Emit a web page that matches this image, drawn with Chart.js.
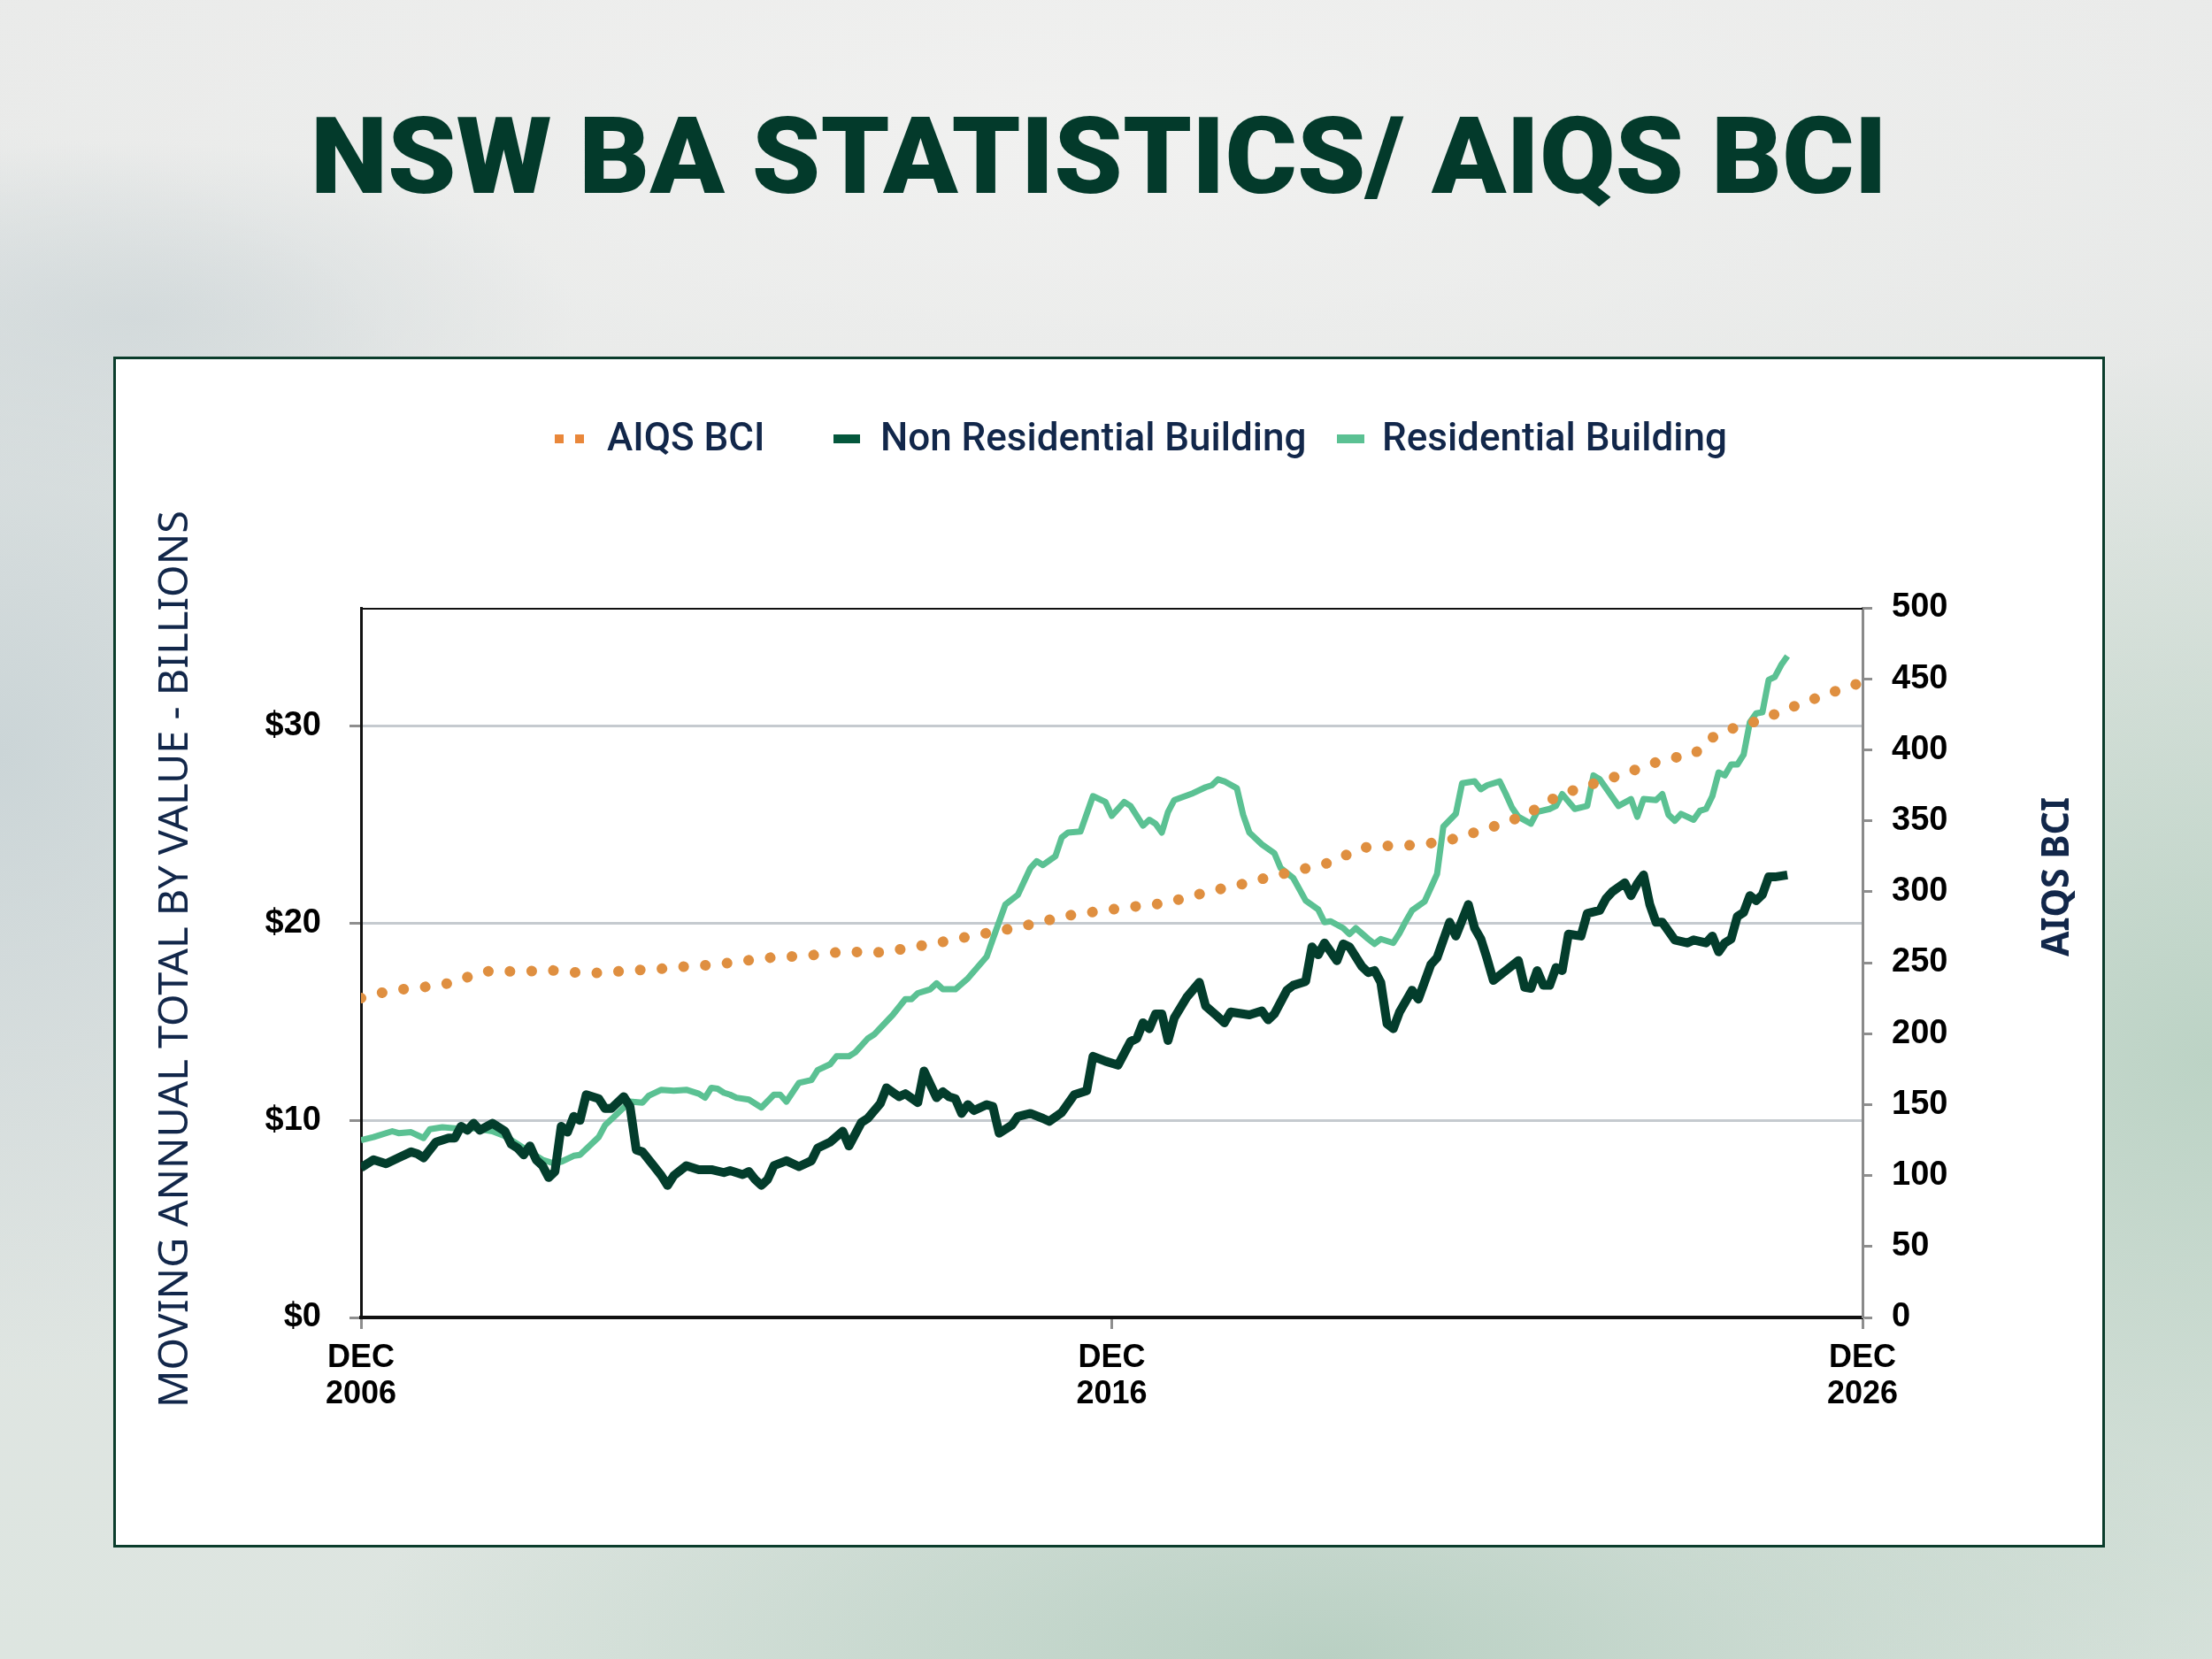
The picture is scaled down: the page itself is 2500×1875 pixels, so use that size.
<!DOCTYPE html>
<html>
<head>
<meta charset="utf-8">
<title>NSW BA Statistics / AIQS BCI</title>
<script src="https://cdn.jsdelivr.net/npm/chart.js@4.4.1/dist/chart.umd.min.js"></script>
<style>
  html, body { margin: 0; padding: 0; }
  body {
    width: 2500px; height: 1875px; overflow: hidden; position: relative;
    background:
      radial-gradient(ellipse 900px 800px at 2500px 1200px, #bcd3c5 0%, rgba(188,211,197,0) 100%),
      radial-gradient(ellipse 1100px 420px at 1500px 1875px, #b9d0c3 0%, rgba(185,208,195,0) 100%),
      radial-gradient(ellipse 600px 700px at 0px 850px, #cbd5d7 0%, rgba(203,213,215,0) 100%),
      radial-gradient(ellipse 500px 200px at 150px 360px, #d6dcdd 0%, rgba(214,220,221,0) 100%),
      radial-gradient(ellipse 1500px 450px at 1250px 150px, #f1f1f0 0%, rgba(241,241,240,0) 100%),
      linear-gradient(180deg, #e9eae9 0%, #e1e5e3 60%, #dde5e0 100%);
  }
  .panel {
    position: absolute; left: 128px; top: 403px; width: 2245px; height: 1340px;
    background: #ffffff; border: 3px solid #0b3d2c;
  }
  #chart { position: absolute; left: 0; top: 0; }
</style>
</head>
<body>
<div class="panel"></div>
<canvas id="chart" width="2500" height="1875"></canvas>
<script>
// Titulos y leyenda
const chartTitle = 'NSW BA STATISTICS/ AIQS BCI';
const leftAxisTitle = 'MOVING ANNUAL TOTAL BY VALUE - BILLIONS';
const rightAxisTitle = 'AIQS BCI';
const seriesNames = ['AIQS BCI', 'Non Residential Building', 'Residential Building'];

// Eje X: meses desde DEC 2006
const xTickMonths = [0, 120, 240];
const xTickLabels = [['DEC', '2006'], ['DEC', '2016'], ['DEC', '2026']];
const leftTicks = [0, 10, 20, 30];

// Non Residential Building ($ billones, total anual movil)
const nonResMonth = [
  0, 2, 4, 6, 8, 9, 10, 12, 14, 15, 16, 17, 18, 19, 21, 23, 24, 25, 26, 27,
  28, 29, 30, 31, 32, 33, 34, 35, 36, 38, 39, 40, 42, 43, 44, 45, 47, 48, 49, 50,
  52, 54, 56, 58, 59, 61, 62, 63, 64, 65, 66, 68, 70, 72, 73, 75, 77, 78, 80, 81,
  83, 84, 86, 87, 89, 90, 92, 93, 94, 95, 96, 97, 98, 100, 101, 102, 104, 105, 107, 109,
  110, 112, 114, 116, 117, 119, 121, 123, 124, 125, 126, 127, 128, 129, 130, 132, 134, 135, 137, 138,
  139, 142, 144, 145, 146, 148, 149, 151, 152, 153, 154, 156, 157, 158, 160, 161, 162, 163, 164, 165,
  166, 168, 169, 171, 172, 174, 175, 177, 178, 179, 180, 181, 183, 185, 186, 187, 188, 189, 190, 191,
  192, 193, 195, 196, 198, 199, 200, 202, 203, 204, 205, 206, 207, 208, 209, 210, 212, 213, 215, 216,
  217, 218, 219, 220, 221, 222, 223, 224, 225, 226, 228
];
const nonResValue = [
  7.6, 8.0, 7.8, 8.1, 8.4, 8.3, 8.1, 8.9, 9.1, 9.1, 9.7, 9.5, 9.85, 9.5, 9.85, 9.45, 8.8, 8.6, 8.25, 8.7,
  8.0, 7.7, 7.1, 7.4, 9.7, 9.4, 10.2, 10.0, 11.3, 11.1, 10.6, 10.6, 11.2, 10.7, 8.5, 8.4, 7.6, 7.2, 6.7, 7.2,
  7.7, 7.5, 7.5, 7.35, 7.45, 7.25, 7.4, 7.0, 6.7, 7.0, 7.7, 7.95, 7.65, 7.95, 8.6, 8.9, 9.45, 8.7, 9.9, 10.1,
  10.85, 11.65, 11.2, 11.35, 10.9, 12.5, 11.15, 11.45, 11.2, 11.1, 10.35, 10.8, 10.5, 10.8, 10.7, 9.35, 9.75, 10.2, 10.35, 10.1,
  9.95, 10.4, 11.3, 11.5, 13.25, 13.0, 12.8, 14.0, 14.15, 14.95, 14.65, 15.4, 15.4, 14.05, 15.2, 16.25, 17.0, 15.8, 15.25, 14.95,
  15.5, 15.35, 15.55, 15.1, 15.4, 16.6, 16.85, 17.05, 18.8, 18.4, 19.0, 18.1, 18.95, 18.8, 17.8, 17.5, 17.6, 17.0, 14.9, 14.65,
  15.5, 16.6, 16.15, 17.9, 18.25, 20.05, 19.35, 20.95, 19.75, 19.2, 18.2, 17.1, 17.6, 18.1, 16.75, 16.7, 17.6, 16.85, 16.85, 17.75,
  17.6, 19.45, 19.35, 20.5, 20.65, 21.25, 21.6, 22.05, 21.4, 22.0, 22.45, 20.95, 20.05, 20.05, 19.6, 19.15, 19.0, 19.15, 19.0, 19.35,
  18.55, 19.0, 19.2, 20.35, 20.55, 21.4, 21.15, 21.45, 22.35, 22.35, 22.45
];

// Residential Building ($ billones, total anual movil)
const resMonth = [
  0, 2, 5, 6, 8, 10, 11, 13, 15, 18, 21, 23, 25, 27, 29, 31, 32, 34, 35, 38,
  39, 41, 43, 45, 46, 48, 50, 52, 54, 55, 56, 57, 58, 59, 60, 62, 63, 64, 66, 67,
  68, 70, 72, 73, 75, 76, 78, 79, 81, 82, 85, 87, 88, 89, 91, 92, 93, 95, 97, 100,
  101, 103, 105, 107, 108, 109, 111, 112, 113, 115, 117, 119, 120, 122, 123, 125, 126, 127, 128, 129,
  130, 133, 135, 136, 137, 138, 140, 141, 142, 144, 146, 147, 149, 151, 153, 154, 155, 157, 158, 159,
  161, 162, 163, 165, 166, 167, 168, 170, 172, 173, 175, 176, 178, 179, 180, 182, 183, 184, 185, 187,
  188, 190, 191, 192, 194, 196, 197, 198, 199, 201, 203, 204, 205, 207, 208, 209, 210, 211, 213, 214,
  215, 216, 217, 218, 219, 220, 221, 222, 223, 224, 225, 226, 227, 228
];
const resValue = [
  9.0, 9.15, 9.45, 9.35, 9.4, 9.1, 9.55, 9.65, 9.6, 9.6, 9.45, 9.2, 8.8, 8.4, 8.0, 7.8, 7.9, 8.2, 8.25, 9.15,
  9.75, 10.35, 10.95, 10.9, 11.25, 11.55, 11.5, 11.55, 11.35, 11.15, 11.65, 11.6, 11.4, 11.3, 11.15, 11.05, 10.85, 10.65, 11.3, 11.3,
  10.95, 11.9, 12.05, 12.55, 12.85, 13.25, 13.25, 13.45, 14.15, 14.35, 15.35, 16.15, 16.15, 16.45, 16.65, 16.95, 16.65, 16.65, 17.2, 18.3,
  19.2, 20.95, 21.45, 22.8, 23.15, 22.95, 23.4, 24.35, 24.6, 24.65, 26.45, 26.15, 25.45, 26.15, 25.95, 24.95, 25.25, 25.05, 24.6, 25.65,
  26.25, 26.6, 26.9, 27.0, 27.3, 27.2, 26.85, 25.5, 24.6, 24.0, 23.55, 22.8, 22.3, 21.15, 20.7, 20.05, 20.1, 19.75, 19.45, 19.75,
  19.2, 18.95, 19.2, 19.0, 19.5, 20.1, 20.65, 21.1, 22.5, 24.9, 25.55, 27.1, 27.2, 26.8, 27.0, 27.2, 26.55, 25.85, 25.4, 25.05,
  25.65, 25.8, 25.95, 26.55, 25.8, 25.95, 27.5, 27.3, 26.85, 25.95, 26.3, 25.4, 26.3, 26.25, 26.55, 25.5, 25.2, 25.55, 25.25, 25.7,
  25.8, 26.45, 27.65, 27.5, 28.05, 28.05, 28.55, 30.2, 30.65, 30.7, 32.35, 32.5, 33.1, 33.55
];

// AIQS BCI (indice, eje derecho), trimestral
const bciMonth = [
  0, 3, 6, 9, 12, 15, 18, 21, 24, 27, 30, 33, 36, 39, 42, 45, 48, 51, 54, 57,
  60, 63, 66, 69, 72, 75, 78, 81, 84, 87, 90, 93, 96, 99, 102, 105, 108, 111, 114, 117,
  120, 123, 126, 129, 132, 135, 138, 141, 144, 147, 150, 153, 156, 159, 162, 165, 168, 171, 174, 177,
  180, 183, 186, 189, 192, 195, 198, 201, 204, 207, 210, 213, 216, 219, 222, 225, 228, 231, 234, 237,
  240
];
const bciValue = [
  225, 228.5, 231, 232.3, 233.8, 236.3, 241.5, 244.6, 243.8, 244, 244.8, 243.5, 242.6, 243, 244.2, 245, 245.7, 247, 247.8, 248.8,
  250.5, 252.3, 253.8, 254.4, 255.2, 256.8, 258, 256.8, 257.6, 260, 262.3, 264.7, 267.4, 270, 272.4, 275, 277.9, 281.2, 284, 285.7,
  287.5, 289.3, 290.5, 292.4, 296, 299.4, 302.6, 305.5, 309, 312.2, 315.4, 318.5, 321.8, 330, 332.2, 332.3, 332.8, 334.2, 336.4, 340.5,
  344, 349.5, 353, 362, 368.8, 373.2, 377.5, 381.8, 386.4, 391.2, 394.5, 396.6, 408.6, 414.7, 418.6, 423.3, 428.7, 434, 438.5, 443.5,
  447.5
];

const COLORS = {
  bci: '#df8f40',
  bciLegend: '#e9873a',
  nonRes: '#033d2c',
  nonResLegend: '#04573c',
  res: '#5bc193',
  text: '#12274a',
  title: '#033a2b'
};

function toPoints(months, values) {
  return months.map((m, i) => ({ x: m, y: values[i] }));
}

// Texto ajustado a un ancho dado (escala horizontal)
function fitText(ctx, text, x, y, width) {
  const w = ctx.measureText(text).width;
  ctx.save();
  ctx.translate(x, y);
  ctx.scale(width / w, 1);
  ctx.fillText(text, 0, 0);
  ctx.restore();
}

// Titulo, leyenda, titulos de ejes y borde superior
const decorPlugin = {
  id: 'decor',
  afterDraw(chart) {
    const ctx = chart.ctx;
    const area = chart.chartArea;

    ctx.save();
    // borde superior del area
    ctx.strokeStyle = '#111111';
    ctx.lineWidth = 2;
    ctx.beginPath();
    ctx.moveTo(area.left, area.top + 1);
    ctx.lineTo(area.right, area.top + 1);
    ctx.stroke();

    // titulo
    ctx.font = '900 121px Roboto, "Liberation Sans", sans-serif';
    ctx.fillStyle = COLORS.title;
    ctx.textAlign = 'center';
    ctx.textBaseline = 'alphabetic';
    fitText(ctx, chartTitle, 1242, 218, 1782);

    // leyenda
    const legendY = 496;
    ctx.fillStyle = COLORS.bciLegend;
    ctx.fillRect(627, legendY - 5, 10, 10);
    ctx.fillRect(650, legendY - 5, 10, 10);
    ctx.fillStyle = COLORS.nonResLegend;
    ctx.fillRect(942, legendY - 5, 30, 10);
    ctx.fillStyle = COLORS.res;
    ctx.fillRect(1511, legendY - 5, 31, 10);

    ctx.font = '500 44px Roboto, "Noto Sans", sans-serif';
    ctx.fillStyle = COLORS.text;
    ctx.textAlign = 'left';
    ctx.textBaseline = 'middle';
    ctx.fillText(seriesNames[0], 686, legendY + 2);
    ctx.fillText(seriesNames[1], 995, legendY + 2);
    ctx.fillText(seriesNames[2], 1562, legendY + 2);

    // titulo eje izquierdo
    ctx.save();
    ctx.translate(199, 1084);
    ctx.rotate(-Math.PI / 2);
    ctx.font = '400 46px "Noto Sans", sans-serif';
    ctx.textAlign = 'center';
    fitText(ctx, leftAxisTitle, 0, 0, 1014);
    ctx.restore();

    // titulo eje derecho
    ctx.save();
    ctx.translate(2326, 991);
    ctx.rotate(-Math.PI / 2);
    ctx.font = '700 43px "Noto Sans", sans-serif';
    ctx.textAlign = 'center';
    fitText(ctx, rightAxisTitle, 0, 0, 180);
    ctx.restore();

    ctx.restore();
  }
};

const tickFont = { family: '"Liberation Sans", Arial, sans-serif', size: 38, weight: 'bold' };

new Chart(document.getElementById('chart'), {
  type: 'line',
  data: {
    datasets: [
      {
        label: seriesNames[0],
        data: toPoints(bciMonth, bciValue),
        yAxisID: 'y2',
        borderColor: COLORS.bci,
        borderWidth: 12,
        borderDash: [0.1, 24.5],
        borderCapStyle: 'round',
        pointRadius: 0,
        tension: 0
      },
      {
        label: seriesNames[1],
        data: toPoints(nonResMonth, nonResValue),
        yAxisID: 'y',
        borderColor: COLORS.nonRes,
        borderWidth: 10,
        borderJoinStyle: 'round',
        pointRadius: 0,
        tension: 0
      },
      {
        label: seriesNames[2],
        data: toPoints(resMonth, resValue),
        yAxisID: 'y',
        borderColor: COLORS.res,
        borderWidth: 7,
        borderJoinStyle: 'round',
        pointRadius: 0,
        tension: 0
      }
    ]
  },
  options: {
    responsive: false,
    devicePixelRatio: 1,
    animation: false,
    layout: { padding: { top: 687, left: 0, right: 0, bottom: 0 } },
    plugins: {
      legend: { display: false },
      tooltip: { enabled: false }
    },
    scales: {
      x: {
        type: 'linear',
        min: 0,
        max: 240,
        afterFit(scale) { scale.height = 386; },
        afterBuildTicks(scale) { scale.ticks = xTickMonths.map(v => ({ value: v })); },
        border: { color: '#111111', width: 4 },
        grid: { drawOnChartArea: false, tickLength: 13, tickColor: '#8e8e8e', tickWidth: 3 },
        ticks: {
          color: '#000000',
          font: { family: '"Liberation Sans", Arial, sans-serif', size: 36, weight: 'bold', lineHeight: 1.15 },
          padding: 12,
          maxRotation: 0,
          callback: v => xTickLabels[xTickMonths.indexOf(v)]
        }
      },
      y: {
        position: 'left',
        min: 0,
        max: 36,
        afterFit(scale) { scale.width = 408; },
        afterBuildTicks(scale) { scale.ticks = leftTicks.map(v => ({ value: v })); },
        border: { color: '#111111', width: 3 },
        grid: {
          color: ctx => ctx.tick && ctx.tick.value === 0 ? 'rgba(0,0,0,0)' : '#c5cacf',
          lineWidth: 3,
          tickLength: 13,
          tickColor: '#8e8e8e',
          tickWidth: 3
        },
        ticks: {
          color: '#000000',
          font: tickFont,
          padding: 32,
          callback: v => '$' + v
        }
      },
      y2: {
        position: 'right',
        min: 0,
        max: 500,
        afterFit(scale) { scale.width = 395; },
        border: { color: '#8a8a8a', width: 3 },
        grid: { drawOnChartArea: false, tickLength: 11, tickColor: '#8e8e8e', tickWidth: 3 },
        ticks: {
          color: '#000000',
          font: tickFont,
          padding: 22,
          stepSize: 50
        }
      }
    }
  },
  plugins: [decorPlugin]
});
</script>
</body>
</html>
